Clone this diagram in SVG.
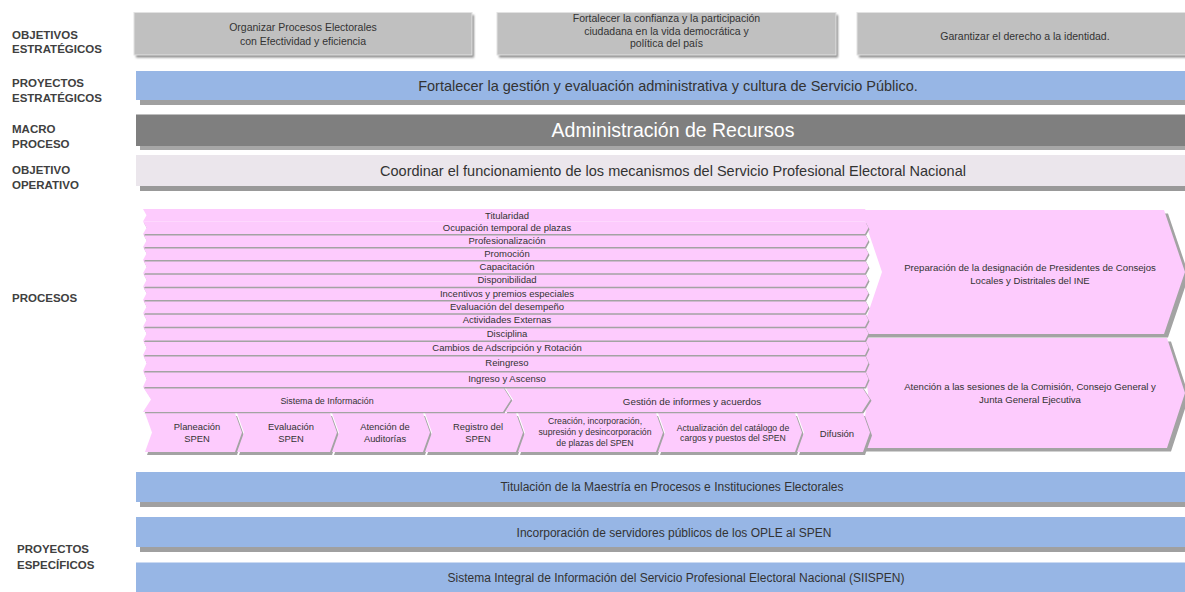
<svg xmlns="http://www.w3.org/2000/svg" width="1185" height="592" viewBox="0 0 1185 592">
<defs>
<filter id="blur" x="-5%" y="-30%" width="110%" height="160%"><feGaussianBlur stdDeviation="0.8"/></filter>
</defs>
<style>
.lbl{font-family:'Liberation Sans',Arial,sans-serif;font-weight:bold;font-size:11.5px;fill:#404040}
.tx{font-family:'Liberation Sans',Arial,sans-serif;fill:#333;text-anchor:middle}
.box{fill:#c0c0c0;stroke:#e2e2e2;stroke-width:1}
.bsh{fill:#8a8a8a}
.blue{fill:#97b6e5}
.sh{fill:#a0a0a0}
.pk{fill:#fdcbfd}
.psh{fill:#a3a3a3}
.s105{font-size:10.5px}
.s145{font-size:14.5px}
.s12{font-size:12px}
.s92{font-size:9.5px}
.s96{font-size:9.6px}
.s93{font-size:9.4px}
.s87{font-size:8.7px}
</style>
<rect width="1185" height="592" fill="#ffffff"/>

<g id="labels">
<text class="lbl" x="12" y="38.5">OBJETIVOS</text>
<text class="lbl" x="12" y="53">ESTRATÉGICOS</text>
<text class="lbl" x="12" y="87">PROYECTOS</text>
<text class="lbl" x="12" y="101.5">ESTRATÉGICOS</text>
<text class="lbl" x="12" y="133">MACRO</text>
<text class="lbl" x="12" y="148">PROCESO</text>
<text class="lbl" x="12" y="174">OBJETIVO</text>
<text class="lbl" x="12" y="189">OPERATIVO</text>
<text class="lbl" x="12" y="302">PROCESOS</text>
<text class="lbl" x="17" y="553">PROYECTOS</text>
<text class="lbl" x="17" y="569">ESPECÍFICOS</text>
</g>

<g id="obj1">
<rect class="bsh" x="136" y="15" width="338" height="42.5" filter="url(#blur)"/>
<rect class="box" x="134" y="12.5" width="338" height="42.5"/>
<text class="tx s105" x="303" y="31">Organizar Procesos Electorales</text>
<text class="tx s105" x="303" y="44.5">con Efectividad y eficiencia</text>
</g>
<g id="obj2">
<rect class="bsh" x="499" y="15" width="339" height="42.5" filter="url(#blur)"/>
<rect class="box" x="497" y="12.5" width="339" height="42.5"/>
<text class="tx s105" x="666.5" y="22">Fortalecer la confianza y la participación</text>
<text class="tx s105" x="666.5" y="34.5">ciudadana en la vida democrática y</text>
<text class="tx s105" x="666.5" y="47">política del país</text>
</g>
<g id="obj3">
<rect class="bsh" x="859" y="15" width="340" height="42.5" filter="url(#blur)"/>
<rect class="box" x="857" y="12.5" width="340" height="42.5"/>
<text class="tx s105" x="1025" y="39.5">Garantizar el derecho a la identidad.</text>
</g>

<g id="proyecto-estrategico">
<rect class="sh" x="140" y="76" width="1060" height="29"/>
<rect class="blue" x="136" y="71" width="1060" height="29"/>
<text class="tx s145" x="668" y="91">Fortalecer la gestión y evaluación administrativa y cultura de Servicio Público.</text>
</g>

<g id="macro-proceso">
<rect x="140" y="119" width="1060" height="31" fill="#a6a6a6"/>
<rect x="136" y="114.5" width="1060" height="31.5" fill="#7f7f7f"/>
<text class="tx" x="673" y="137" style="font-size:19.5px;fill:#ffffff">Administración de Recursos</text>
</g>

<g id="objetivo-operativo">
<rect x="140" y="160" width="1060" height="31" fill="#999999"/>
<rect x="136" y="155" width="1060" height="31" fill="#ebe6ec"/>
<text class="tx s145" x="673" y="176">Coordinar el funcionamiento de los mecanismos del Servicio Profesional Electoral Nacional</text>
</g>

<g id="prep-designacion">
<polygon class="psh" transform="translate(4,3.5)" points="861,210 1164,210 1185,272 1164,334 861,334 882,272"/>
<polygon class="pk" points="861,210 1164,210 1185,272 1164,334 861,334 882,272"/>
<text class="tx s96" x="1030" y="270.5">Preparación de la designación de Presidentes de Consejos</text>
<text class="tx s96" x="1030" y="284">Locales y Distritales del INE</text>
</g>
<g id="atencion-sesiones">
<polygon class="psh" transform="translate(4,3.5)" points="861,338 1167,338 1185,393 1167,448 861,448 868,393"/>
<polygon class="pk" points="861,338 1167,338 1185,393 1167,448 861,448 868,393"/>
<text class="tx s96" x="1030" y="389.5">Atención a las sesiones de la Comisión, Consejo General y</text>
<text class="tx s96" x="1030" y="403">Junta General Ejecutiva</text>
</g>

<g id="subprocesos">
<g class="psh" transform="translate(2,3)">
<polygon points="145,413 235,413 242,432.5 235,452 145,452 152,432.5"/>
<polygon points="237,413 330,413 337,432.5 330,452 237,452 244,432.5"/>
<polygon points="332,413 423,413 430,432.5 423,452 332,452 339,432.5"/>
<polygon points="425,413 516,413 523,432.5 516,452 425,452 432,432.5"/>
<polygon points="518,413 656,413 663,432.5 656,452 518,452 525,432.5"/>
<polygon points="658,413 795,413 802,432.5 795,452 658,452 665,432.5"/>
<polygon points="797,413 863,413 870,432.5 863,452 797,452 804,432.5"/>
</g>
<g id="planeacion">
<polygon class="pk" points="145,413 235,413 242,432.5 235,452 145,452 152,432.5"/>
<text class="tx s93" x="197" y="430">Planeación</text><text class="tx s93" x="197" y="441.5">SPEN</text>
</g>
<g id="evaluacion">
<polygon class="pk" points="237,413 330,413 337,432.5 330,452 237,452 244,432.5"/>
<text class="tx s93" x="291" y="430">Evaluación</text><text class="tx s93" x="291" y="441.5">SPEN</text>
</g>
<g id="auditorias">
<polygon class="pk" points="332,413 423,413 430,432.5 423,452 332,452 339,432.5"/>
<text class="tx s93" x="385" y="430">Atención de</text><text class="tx s93" x="385" y="441.5">Auditorías</text>
</g>
<g id="registro">
<polygon class="pk" points="425,413 516,413 523,432.5 516,452 425,452 432,432.5"/>
<text class="tx s93" x="478" y="430">Registro del</text><text class="tx s93" x="478" y="441.5">SPEN</text>
</g>
<g id="creacion">
<polygon class="pk" points="518,413 656,413 663,432.5 656,452 518,452 525,432.5"/>
<text class="tx s87" x="595" y="424">Creación, incorporación,</text>
<text class="tx s87" x="595" y="435">supresión y desincorporación</text>
<text class="tx s87" x="595" y="446">de plazas del SPEN</text>
</g>
<g id="actualizacion">
<polygon class="pk" points="658,413 795,413 802,432.5 795,452 658,452 665,432.5"/>
<text class="tx s87" x="733" y="431">Actualización del catálogo de</text>
<text class="tx s87" x="733" y="441">cargos y puestos del SPEN</text>
</g>
<g id="difusion">
<polygon class="pk" points="797,413 863,413 870,432.5 863,452 797,452 804,432.5"/>
<text class="tx" x="837" y="436.5" style="font-size:9.5px">Difusión</text>
</g>
</g>

<g id="sistema-gestion">
<polygon class="psh" transform="translate(1.5,1.2)" points="143,387 503,387 511,399.5 503,412 143,412 151,399.5"/>
<polygon class="psh" transform="translate(1.5,1.2)" points="505,387 862,387 870,399.5 862,412 505,412 513,399.5"/>
<g id="sistema-informacion">
<polygon class="pk" points="143,387 503,387 511,399.5 503,412 143,412 151,399.5"/>
<text class="tx" x="327" y="403.8" style="font-size:8.9px">Sistema de Información</text>
</g>
<g id="gestion-informes">
<polygon class="pk" points="505,387 862,387 870,399.5 862,412 505,412 513,399.5"/>
<text class="tx" x="692" y="404.5" style="font-size:9.8px">Gestión de informes y acuerdos</text>
</g>
</g>

<g id="r13"><polygon class="psh" transform="translate(1,1.5)" points="143,371 865,371 868.5,379 865,387 143,387 146.5,379"/><polygon class="pk" points="143,371 865,371 868.5,379 865,387 143,387 146.5,379"/><text class="tx s92" x="507" y="382.3">Ingreso y Ascenso</text></g>
<g id="r12"><polygon class="psh" transform="translate(1,1.5)" points="143,355 865,355 868.5,363 865,371 143,371 146.5,363"/><polygon class="pk" points="143,355 865,355 868.5,363 865,371 143,371 146.5,363"/><text class="tx s92" x="507" y="366.3">Reingreso</text></g>
<g id="r11"><polygon class="psh" transform="translate(1,1.5)" points="143,340.5 865,340.5 868.5,347.75 865,355 143,355 146.5,347.75"/><polygon class="pk" points="143,340.5 865,340.5 868.5,347.75 865,355 143,355 146.5,347.75"/><text class="tx s92" x="507" y="351">Cambios de Adscripción y Rotación</text></g>
<g id="r10"><polygon class="psh" transform="translate(1,1.5)" points="143,326.7 865,326.7 868.5,333.6 865,340.5 143,340.5 146.5,333.6"/><polygon class="pk" points="143,326.7 865,326.7 868.5,333.6 865,340.5 143,340.5 146.5,333.6"/><text class="tx s92" x="507" y="337">Disciplina</text></g>
<g id="r9"><polygon class="psh" transform="translate(1,1.5)" points="143,313.3 865,313.3 868.5,320 865,326.7 143,326.7 146.5,320"/><polygon class="pk" points="143,313.3 865,313.3 868.5,320 865,326.7 143,326.7 146.5,320"/><text class="tx s92" x="507" y="323.4">Actividades Externas</text></g>
<g id="r8"><polygon class="psh" transform="translate(1,1.5)" points="143,300 865,300 868.5,306.65 865,313.3 143,313.3 146.5,306.65"/><polygon class="pk" points="143,300 865,300 868.5,306.65 865,313.3 143,313.3 146.5,306.65"/><text class="tx s92" x="507" y="310">Evaluación del desempeño</text></g>
<g id="r7"><polygon class="psh" transform="translate(1,1.5)" points="143,286.7 865,286.7 868.5,293.35 865,300 143,300 146.5,293.35"/><polygon class="pk" points="143,286.7 865,286.7 868.5,293.35 865,300 143,300 146.5,293.35"/><text class="tx s92" x="507" y="296.7">Incentivos y premios especiales</text></g>
<g id="r6"><polygon class="psh" transform="translate(1,1.5)" points="143,273.3 865,273.3 868.5,280 865,286.7 143,286.7 146.5,280"/><polygon class="pk" points="143,273.3 865,273.3 868.5,280 865,286.7 143,286.7 146.5,280"/><text class="tx s92" x="507" y="283.4">Disponibilidad</text></g>
<g id="r5"><polygon class="psh" transform="translate(1,1.5)" points="143,260 865,260 868.5,266.65 865,273.3 143,273.3 146.5,266.65"/><polygon class="pk" points="143,260 865,260 868.5,266.65 865,273.3 143,273.3 146.5,266.65"/><text class="tx s92" x="507" y="270">Capacitación</text></g>
<g id="r4"><polygon class="psh" transform="translate(1,1.5)" points="143,247 865,247 868.5,253.5 865,260 143,260 146.5,253.5"/><polygon class="pk" points="143,247 865,247 868.5,253.5 865,260 143,260 146.5,253.5"/><text class="tx s92" x="507" y="256.9">Promoción</text></g>
<g id="r3"><polygon class="psh" transform="translate(1,1.5)" points="143,234 865,234 868.5,240.5 865,247 143,247 146.5,240.5"/><polygon class="pk" points="143,234 865,234 868.5,240.5 865,247 143,247 146.5,240.5"/><text class="tx s92" x="507" y="243.9">Profesionalización</text></g>
<g id="r2"><polygon class="psh" transform="translate(1,1.5)" points="143,221.5 865,221.5 868.5,227.75 865,234 143,234 146.5,227.75"/><polygon class="pk" points="143,221.5 865,221.5 868.5,227.75 865,234 143,234 146.5,227.75"/><text class="tx s92" x="507" y="230.7">Ocupación temporal de plazas</text></g>
<g id="r1"><polygon class="pk" points="143,209 865,209 868.5,215.25 865,221.5 143,221.5 146.5,215.25"/><text class="tx s92" x="507" y="218.6">Titularidad</text></g>

<g id="proy-titulacion">
<rect class="sh" x="140" y="477" width="1060" height="30"/>
<rect class="blue" x="136" y="472" width="1060" height="30"/>
<text class="tx s12" x="672" y="491">Titulación de la Maestría en Procesos e Instituciones Electorales</text>
</g>
<g id="proy-incorporacion">
<rect class="sh" x="140" y="522" width="1060" height="30"/>
<rect class="blue" x="136" y="517" width="1060" height="30"/>
<text class="tx s12" x="674" y="537">Incorporación de servidores públicos de los OPLE al SPEN</text>
</g>
<g id="proy-siispen">
<rect class="blue" x="136" y="562.5" width="1060" height="35"/>
<text class="tx s12" x="676" y="581.5">Sistema Integral de Información del Servicio Profesional Electoral Nacional (SIISPEN)</text>
</g>

<g id="connectors"></g>
</svg>
